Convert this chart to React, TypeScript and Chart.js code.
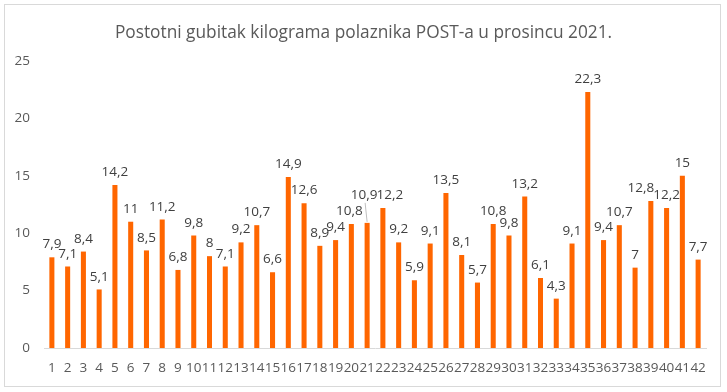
import React, { useEffect, useRef } from "react";
import { Chart, registerables } from "chart.js";

Chart.register(...registerables);

const TITLE = "Postotni gubitak kilograma polaznika POST-a u prosincu 2021.";
const CATEGORIES: string[] = Array.from({ length: 42 }, (_, i) => String(i + 1));
const VALUES: number[] = [
  7.9, 7.1, 8.4, 5.1, 14.2, 11, 8.5, 11.2, 6.8, 9.8,
  8, 7.1, 9.2, 10.7, 6.6, 14.9, 12.6, 8.9, 9.4, 10.8,
  10.9, 12.2, 9.2, 5.9, 9.1, 13.5, 8.1, 5.7, 10.8, 9.8,
  13.2, 6.1, 4.3, 9.1, 22.3, 9.4, 10.7, 7, 12.8, 12.2,
  15, 7.7,
];
const Y_MIN = 0;
const Y_MAX = 25;
const Y_STEP = 5;

const FONT = "'Open Sans', 'Liberation Sans', sans-serif";

// label nudges (index -> pixel shift), mimicking Excel's collision adjustments
const LABEL_NUDGE: Record<number, { dx: number; dy: number; leader?: boolean }> = {
  19: { dx: -2, dy: 0 },
  20: { dx: -3, dy: -15, leader: true },
  21: { dx: 7, dy: 0 },
  38: { dx: -10, dy: 0 },
};

const labelPlugin = {
  id: "valueLabels",
  afterDatasetsDraw(chart: any) {
    const ctx = chart.ctx;
    const meta = chart.getDatasetMeta(0);
    ctx.save();
    ctx.font = `13.5px ${FONT}`;
    ctx.textAlign = "center";
    ctx.textBaseline = "bottom";
    meta.data.forEach((bar: any, i: number) => {
      const txt = String(VALUES[i]).replace(".", ",");
      const n = LABEL_NUDGE[i] || { dx: 0, dy: 0 };
      const x = bar.x + n.dx;
      const y = bar.y - 6 + n.dy;
      if (n.leader) {
        ctx.strokeStyle = "#bfbfbf";
        ctx.lineWidth = 1;
        ctx.beginPath();
        ctx.moveTo(x + 1, y + 1);
        ctx.lineTo(bar.x, bar.y - 1);
        ctx.stroke();
      }
      ctx.fillStyle = "#404040";
      ctx.fillText(txt, x, y);
    });
    ctx.restore();
  },
};

const titlePlugin = {
  id: "customTitle",
  afterDraw(chart: any) {
    const ctx = chart.ctx;
    ctx.save();
    ctx.font = `17.3px ${FONT}`;
    ctx.fillStyle = "#595959";
    ctx.textAlign = "center";
    ctx.textBaseline = "middle";
    ctx.fillText(TITLE, 363.5, 33);
    ctx.restore();
  },
};

export default function App() {
  const ref = useRef<HTMLCanvasElement | null>(null);
  useEffect(() => {
    if (!ref.current) return;
    const chart = new Chart(ref.current, {
      type: "bar",
      data: {
        labels: CATEGORIES,
        datasets: [
          {
            data: VALUES,
            backgroundColor: "#FF6600",
            categoryPercentage: 1,
            barPercentage: 0.32,
          },
        ],
      },
      options: {
        animation: false,
        responsive: false,
        maintainAspectRatio: false,
        layout: { padding: { top: 61, left: 0, right: 21, bottom: 0 } },
        plugins: {
          legend: { display: false },
          tooltip: { enabled: false },
          title: { display: false },
        },
        scales: {
          x: {
            grid: { display: false, drawTicks: false },
            border: { display: true, color: "#d9d9d9", width: 1 },
            ticks: {
              autoSkip: false,
              maxRotation: 0,
              minRotation: 0,
              padding: 12,
              color: "#595959",
              font: { family: FONT, size: 13.5 },
            },
            afterFit: (scale: any) => {
              scale.height = 44;
            },
          },
          y: {
            min: Y_MIN,
            max: Y_MAX,
            grid: { display: false, drawTicks: false },
            border: { display: false },
            ticks: {
              stepSize: Y_STEP,
              padding: 14,
              color: "#595959",
              font: { family: FONT, size: 13.5 },
            },
            afterFit: (scale: any) => {
              scale.width = 44;
            },
          },
        },
      },
      plugins: [labelPlugin, titlePlugin],
    });
    return () => chart.destroy();
  }, []);

  return (
    <div style={{ position: "fixed", left: 0, top: 0, width: 727, height: 392, background: "#fff" }}>
      <div
        style={{
          position: "absolute",
          left: 4,
          top: 4,
          width: 717,
          height: 383,
          border: "1px solid #d9d9d9",
          boxSizing: "border-box",
        }}
      />
      <canvas ref={ref} width={727} height={392} style={{ position: "absolute", left: 0, top: 0 }} />
    </div>
  );
}
